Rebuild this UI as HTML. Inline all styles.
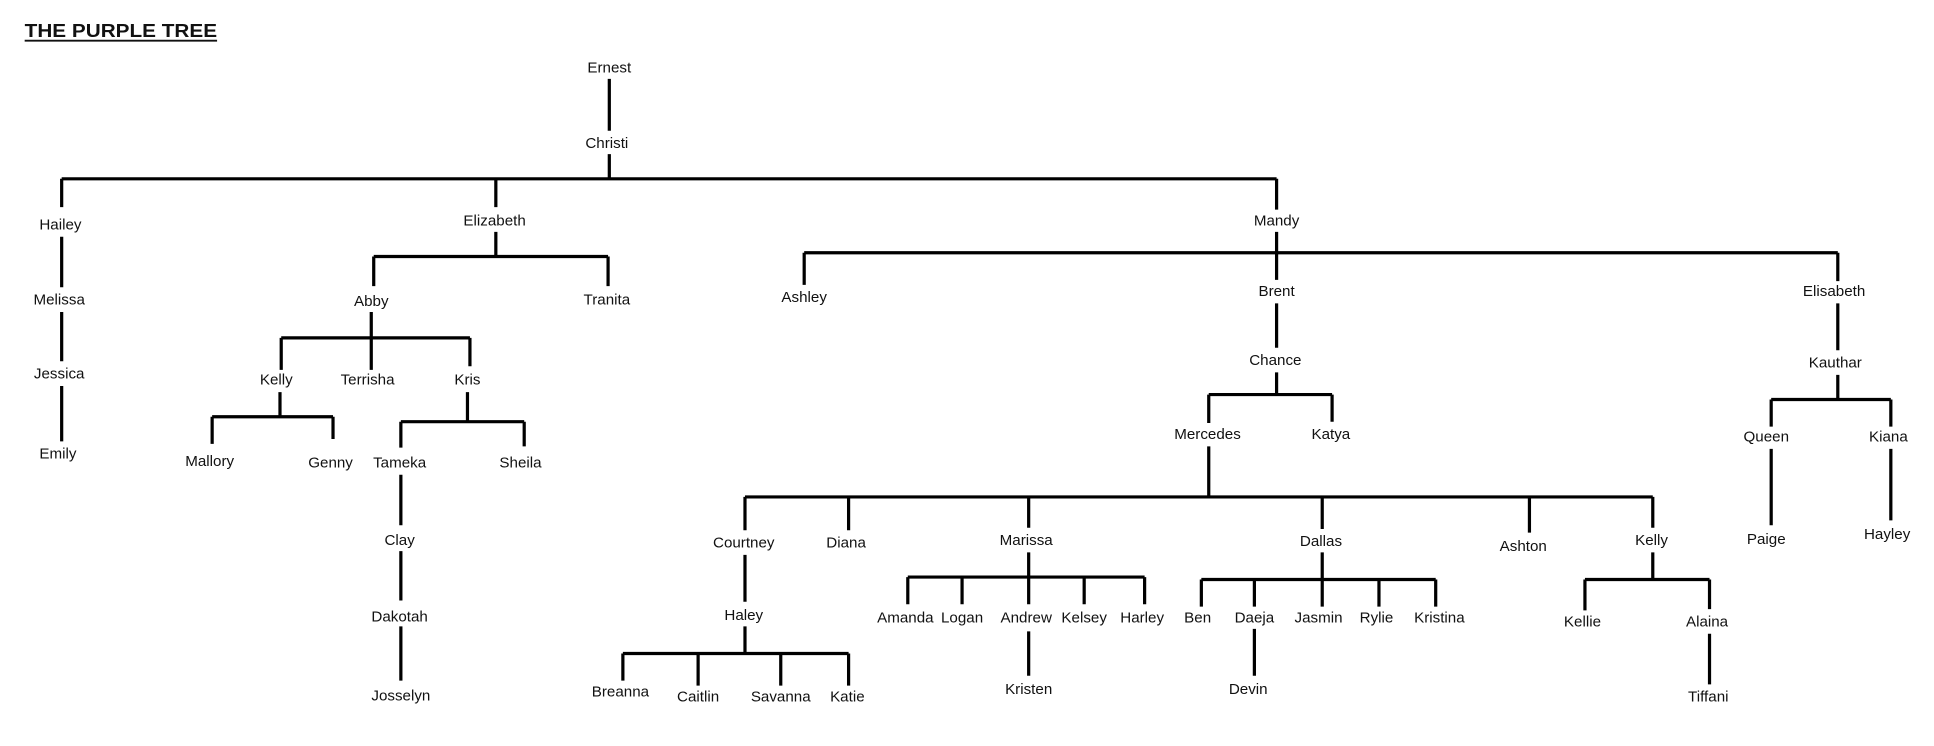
<!DOCTYPE html>
<html><head><meta charset="utf-8"><style>
html,body{margin:0;padding:0;background:#fff;width:1934px;height:746px;overflow:hidden}
svg{display:block}
text{font-family:"Liberation Sans",sans-serif;font-size:12.3px;fill:#111;text-anchor:middle}
</style></head><body>
<svg width="1934" height="746" viewBox="0 0 1568 605" preserveAspectRatio="none">
<text x="20" y="30" style="text-anchor:start;font-weight:bold;font-size:15px" textLength="156" lengthAdjust="spacingAndGlyphs">THE PURPLE TREE</text>
<line x1="20" y1="33" x2="176" y2="33" stroke="#111" stroke-width="1.5"/>
<g stroke="#000" stroke-width="2.6" fill="none">
<path d="M494 64V106M494 125V145M50 145H1035M50 145V168M402 145V168M1035 145V170"/>
<path d="M50 192V233M50 253V293M50 313V358"/>
<path d="M402 188V208M303 208H493M303 208V232M493 208V232"/>
<path d="M301 253V274M228 274H381M228 274V300M301 274V300M381 274V297"/>
<path d="M227 318V338M172 338H270M172 338V360M270 338V356"/>
<path d="M379 318V342M325 342H425M325 342V363M425 342V362"/>
<path d="M325 385V426M325 447V487M325 508V552"/>
<path d="M1035 188V205M652 205H1490M652 205V231M1035 205V227M1490 205V228"/>
<path d="M1035 246V282M1035 302V320M980 320H1080M980 320V343M1080 320V342"/>
<path d="M980 362V403M604 403H1340M604 403V430M688 403V430M834 403V428M1072 403V429M1240 403V432M1340 403V428"/>
<path d="M604 450V488M604 508V530M505 530H688M505 530V552M566 530V556M633 530V556M688 530V556"/>
<path d="M834 448V468M736 468H928M736 468V490M780 468V490M834 468V490M879 468V490M928 468V490M834 512V548"/>
<path d="M1072 448V470M974 470H1164M974 470V492M1017 470V492M1072 470V492M1118 470V492M1164 470V492M1017 510V548"/>
<path d="M1340 448V470M1285 470H1386M1285 470V495M1386 470V494M1386 514V555"/>
<path d="M1490 246V284M1490 304V324M1436 324H1533M1436 324V346M1533 324V346M1436 364V426M1533 364V422"/>
</g>
<g>
<text x="494" y="59">Ernest</text><text x="492" y="120">Christi</text>
<text x="49" y="186">Hailey</text><text x="401" y="183">Elizabeth</text><text x="1035" y="183">Mandy</text>
<text x="48" y="247">Melissa</text><text x="48" y="307">Jessica</text><text x="47" y="372">Emily</text>
<text x="301" y="248">Abby</text><text x="492" y="247">Tranita</text>
<text x="224" y="312">Kelly</text><text x="298" y="312">Terrisha</text><text x="379" y="312">Kris</text>
<text x="170" y="378">Mallory</text><text x="268" y="379">Genny</text><text x="324" y="379">Tameka</text><text x="422" y="379">Sheila</text>
<text x="324" y="442">Clay</text><text x="324" y="504">Dakotah</text><text x="325" y="568">Josselyn</text>
<text x="652" y="245">Ashley</text><text x="1035" y="240">Brent</text><text x="1487" y="240">Elisabeth</text>
<text x="1034" y="296">Chance</text><text x="979" y="356">Mercedes</text><text x="1079" y="356">Katya</text>
<text x="603" y="444">Courtney</text><text x="686" y="444">Diana</text><text x="832" y="442">Marissa</text><text x="1071" y="443">Dallas</text><text x="1235" y="447">Ashton</text><text x="1339" y="442">Kelly</text>
<text x="603" y="503">Haley</text>
<text x="503" y="565">Breanna</text><text x="566" y="569">Caitlin</text><text x="633" y="569">Savanna</text><text x="687" y="569">Katie</text>
<text x="734" y="505">Amanda</text><text x="780" y="505">Logan</text><text x="832" y="505">Andrew</text><text x="879" y="505">Kelsey</text><text x="926" y="505">Harley</text>
<text x="834" y="563">Kristen</text>
<text x="971" y="505">Ben</text><text x="1017" y="505">Daeja</text><text x="1069" y="505">Jasmin</text><text x="1116" y="505">Rylie</text><text x="1167" y="505">Kristina</text>
<text x="1012" y="563">Devin</text>
<text x="1283" y="508">Kellie</text><text x="1384" y="508">Alaina</text><text x="1385" y="569">Tiffani</text>
<text x="1488" y="298">Kauthar</text><text x="1432" y="358">Queen</text><text x="1531" y="358">Kiana</text>
<text x="1432" y="441">Paige</text><text x="1530" y="437">Hayley</text>
</g>
</svg>
</body></html>
